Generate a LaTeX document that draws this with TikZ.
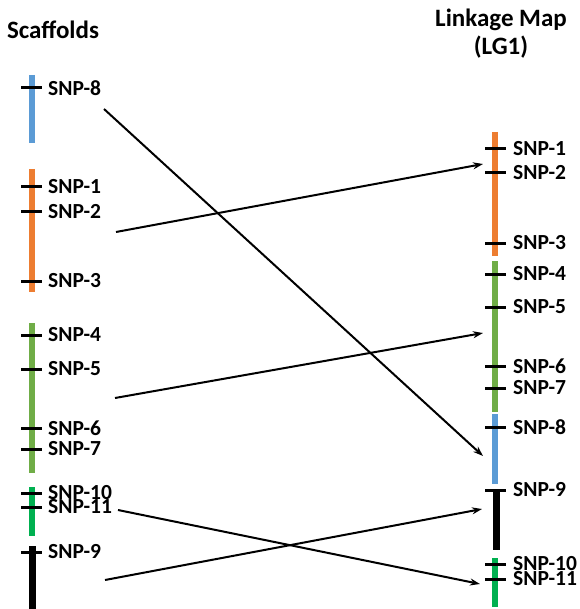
\documentclass[tikz,border=0pt]{standalone}
\usepackage{fontspec}
\setmainfont{Carlito}
\usetikzlibrary{arrows.meta}
\definecolor{cblue}{RGB}{91,155,213}
\definecolor{corange}{RGB}{237,125,49}
\definecolor{clgreen}{RGB}{112,173,71}
\definecolor{cdgreen}{RGB}{0,176,80}
\begin{document}
\begin{tikzpicture}[x=1pt,y=-1pt,
  bar/.style={line width=6pt},
  tick/.style={line width=3pt,black},
  lab/.style={anchor=west,inner sep=0pt,font=\fontsize{21.5}{21.5}\selectfont\bfseries},
  ttl/.style={inner sep=0pt,font=\fontsize{25}{28}\selectfont\bfseries,align=center},
  conn/.style={line width=2pt,-{Stealth[length=10pt,width=7pt]}}]
\useasboundingbox (0,0) rectangle (579,609);
% titles
\node[ttl] (tl) at (53,30) {Scaffolds};
\node[ttl] (tr) at (501,34) {Linkage Map\\(LG1)};
% left bars
\draw[bar,cblue] (32,75) -- (32,143);
\draw[bar,corange] (32,169) -- (32,292);
\draw[bar,clgreen] (32,323) -- (32,473);
\draw[bar,cdgreen] (32,487) -- (32,536);
\draw[line width=7pt,black] (32,546) -- (32,609);
% right bars
\draw[bar,corange] (495,132) -- (495,256);
\draw[bar,clgreen] (495,261) -- (495,412);
\draw[bar,cblue] (495,414) -- (495,484);
\draw[line width=7pt,black] (496,489) -- (496,550);
\draw[bar,cdgreen] (495,558) -- (495,607);
% left ticks and labels
\foreach \n/\y in {8/88,1/187,2/212,3/281,4/335,5/369,6/428,7/449,10/493,11/507,9/552}{
  \draw[tick] (21,\y) -- (42,\y);
  \node[lab] (L\n) at (48,\y) {SNP-\n};
}
% right ticks and labels
\foreach \n/\y in {1/149,2/173,3/243,4/274,5/307,6/366,7/388,8/427,9/490,10/564,11/579}{
  \draw[tick] (485,\y) -- (506,\y);
  \node[lab] (R\n) at (513,\y) {SNP-\n};
}
% connector endpoints
\coordinate (a1) at (104,109); \coordinate (b1) at (483,456);
\coordinate (a2) at (116,232); \coordinate (b2) at (483,164);
\coordinate (a3) at (115,398); \coordinate (b3) at (483,333);
\coordinate (a4) at (105,580); \coordinate (b4) at (482,509);
\coordinate (a5) at (118,510); \coordinate (b5) at (480,584);
\foreach \i in {1,...,5}{ \draw[conn] (a\i) -- (b\i); }
\end{tikzpicture}
\end{document}
